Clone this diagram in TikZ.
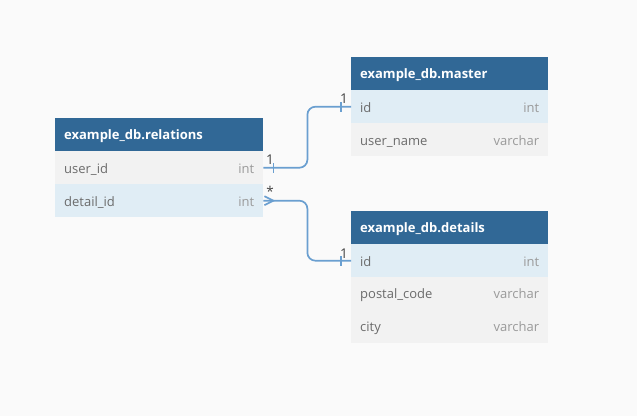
\documentclass[tikz,border=0pt]{standalone}
\usepackage{fontspec}
\setmainfont{Open Sans}
\definecolor{bgc}{HTML}{FAFAFA}
\definecolor{headc}{HTML}{316896}
\definecolor{keyc}{HTML}{E0EDF5}
\definecolor{rowc}{HTML}{F2F2F2}
\definecolor{namec}{HTML}{6B6B6B}
\definecolor{typec}{HTML}{9A9A9A}
\definecolor{linec}{HTML}{6A9FD0}
\definecolor{labc}{HTML}{444444}
\tikzset{
  cell/.style={anchor=north west, minimum height=33pt, inner xsep=9pt, inner ysep=0pt, text depth=0pt, font=\fontsize{13}{15}\selectfont},
  headbox/.style={cell, fill=headc, text=white, font=\fontsize{13}{15}\selectfont\bfseries},
  keyrow/.style={cell, fill=keyc, text=namec},
  plainrow/.style={cell, fill=rowc, text=namec},
  conn/.style={draw=linec, line width=1.7pt, rounded corners=8pt},
  tick/.style={draw=linec, line width=1.7pt},
  card/.style={text=labc, font=\fontsize{13.5}{15}\selectfont, inner sep=0pt}
}
\newcommand{\rowtext}[3]{\parbox{#1}{#2\hfill\textcolor{typec}{#3}}}
\begin{document}
\begin{tikzpicture}[x=1pt,y=-1pt]
\fill[bgc] (0,0) rectangle (637,416);
\useasboundingbox (0,0) rectangle (637,416);
% relations
\node[headbox, text width=190pt] (rh) at (55,118) {example\_db.relations};
\node[plainrow, text width=190pt] (ru) at (55,151) {\rowtext{190pt}{user\_id}{int}};
\node[keyrow, text width=190pt] (rd) at (55,184) {\rowtext{190pt}{detail\_id}{int}};
% master
\node[headbox, text width=179pt] (mh) at (351,57) {example\_db.master};
\node[keyrow, text width=179pt] (mi) at (351,90) {\rowtext{179pt}{id}{int}};
\node[plainrow, text width=179pt] (mu) at (351,123) {\rowtext{179pt}{user\_name}{varchar}};
% details
\node[headbox, text width=179pt] (dh) at (351,211) {example\_db.details};
\node[keyrow, text width=179pt] (di) at (351,244) {\rowtext{179pt}{id}{int}};
\node[plainrow, text width=179pt] (dp) at (351,277) {\rowtext{179pt}{postal\_code}{varchar}};
\node[plainrow, text width=179pt] (dc) at (351,310) {\rowtext{179pt}{city}{varchar}};
% connectors
\draw[conn] (ru.east) -- ([xshift=44pt]ru.east) |- (mi.west);
\draw[conn] (rd.east) -- ([xshift=44pt]rd.east) |- (di.west);
% ticks
\draw[tick] ([xshift=10pt,yshift=-5pt]ru.east) -- ([xshift=10pt,yshift=5pt]ru.east);
\draw[tick] ([xshift=-10pt,yshift=-5pt]mi.west) -- ([xshift=-10pt,yshift=5pt]mi.west);
\draw[tick] ([xshift=-10pt,yshift=-5pt]di.west) -- ([xshift=-10pt,yshift=5pt]di.west);
% crow's foot
\draw[tick] ([xshift=1pt,yshift=4.5pt]rd.east) -- ([xshift=10pt]rd.east) -- ([xshift=1pt,yshift=-4.5pt]rd.east);
% cardinalities
\node[card] (c1) at (270,160) {1};
\node[card] (c2) at (344,99) {1};
\node[card] (c3) at (270,191) {*};
\node[card] (c4) at (344,254) {1};
\end{tikzpicture}
\end{document}
